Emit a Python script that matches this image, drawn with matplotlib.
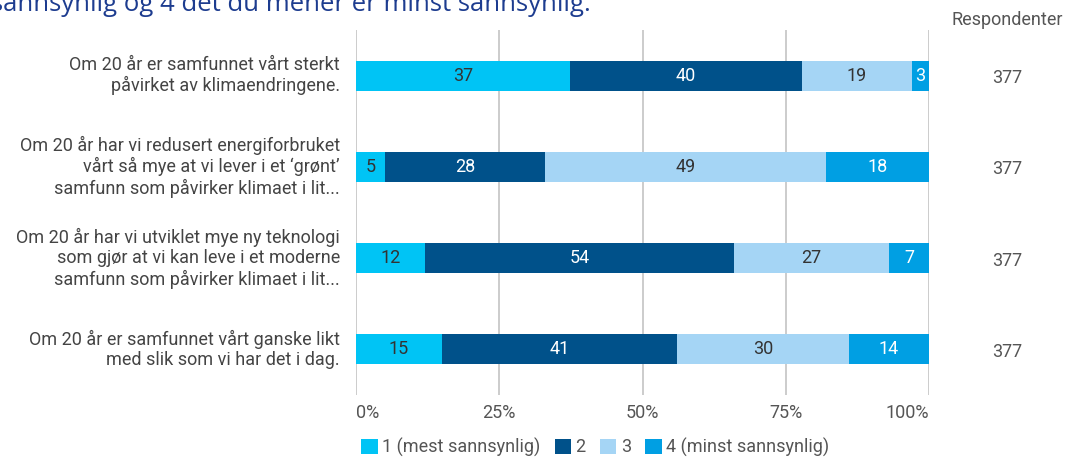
import matplotlib
matplotlib.use("Agg")
import matplotlib.pyplot as plt
from matplotlib.patches import Patch
import numpy as np

plt.rcParams['font.family'] = ['Roboto', 'DejaVu Sans']

categories = [
    "Om 20 år er samfunnet vårt sterkt\npåvirket av klimaendringene.",
    "Om 20 år har vi redusert energiforbruket\nvårt så mye at vi lever i et ‘grønt’\nsamfunn som påvirker klimaet i lit...",
    "Om 20 år har vi utviklet mye ny teknologi\nsom gjør at vi kan leve i et moderne\nsamfunn som påvirker klimaet i lit...",
    "Om 20 år er samfunnet vårt ganske likt\nmed slik som vi har det i dag.",
]
series_names = ["1 (mest sannsynlig)", "2", "3", "4 (minst sannsynlig)"]
s1 = [37, 5, 12, 15]
s2 = [40, 28, 54, 41]
s3 = [19, 49, 27, 30]
s4 = [3, 18, 7, 14]
respondents = [377, 377, 377, 377]
xtick_vals = [0, 25, 50, 75, 100]
xtick_labels = ["0%", "25%", "50%", "75%", "100%"]

colors = ["#00C4F5", "#00518A", "#A5D5F5", "#009FE3"]
text_colors = ["#333333", "#FFFFFF", "#333333", "#FFFFFF"]

FS = 13

fig = plt.figure(figsize=(10.66, 4.57), dpi=100)
ax = fig.add_axes([356/1066, 1-395/457, 573/1066, 365/457])

data = np.array([s1, s2, s3, s4], dtype=float)
totals = data.sum(axis=0)
shares = data / totals * 100
y = np.arange(len(categories))
left = np.zeros(len(categories))
for i in range(4):
    bars = ax.barh(y, shares[i], left=left, height=0.33, color=colors[i],
                   edgecolor="none", zorder=3)
    for j, b in enumerate(bars):
        ax.text(left[j] + shares[i][j] / 2, y[j], f"{int(data[i][j])}",
                ha="center", va="center", fontsize=FS,
                color=text_colors[i], zorder=4)
    left += shares[i]

ax.set_xlim(0, 100)
ax.set_ylim(3.5, -0.5)
for xv in xtick_vals:
    ax.axvline(xv, color="#C8C8C8", lw=1.3, zorder=1)
ax.set_xticks([])
ax.set_yticks([])
for s in ax.spines.values():
    s.set_visible(False)

# x tick labels
for xv, lab in zip(xtick_vals, xtick_labels):
    ha = "left" if xv == 0 else ("right" if xv == 100 else "center")
    ax.text(xv, 3.5 + 0.2, lab, ha=ha, va="center", fontsize=FS,
            color="#555555", clip_on=False)

# category labels
for j, cat in enumerate(categories):
    ax.text(-16 * 100 / 573, y[j], cat, ha="right", va="center", fontsize=FS,
            color="#444444", linespacing=1.17, clip_on=False)

for j in range(len(categories)):
    fig.text(1007/1066, 1 - (78 + 91.3 * j) / 457, str(respondents[j]),
             ha="center", va="center", fontsize=FS, color="#555555")
fig.text(1007/1066, 1 - 20/457, "Respondenter", ha="center", va="center",
         fontsize=FS, color="#555555")

# clipped header text at top
fig.text(-9/1066, 1 - 11/457, "sannsynlig og 4 det du mener er minst sannsynlig.",
         ha="left", va="baseline", fontsize=18.5, color="#1D3C8F",
         family=["Open Sans", "DejaVu Sans"])

handles = [Patch(facecolor=c, edgecolor="none") for c in colors]
leg = fig.legend(handles, series_names, loc="center left",
                 bbox_to_anchor=(345/1066, 1 - 447/457), ncol=4, frameon=False,
                 fontsize=FS, handlelength=0.9, handleheight=0.9,
                 handletextpad=0.25, columnspacing=0.8, labelcolor="#555555")

fig.savefig("out.png", dpi=100)
